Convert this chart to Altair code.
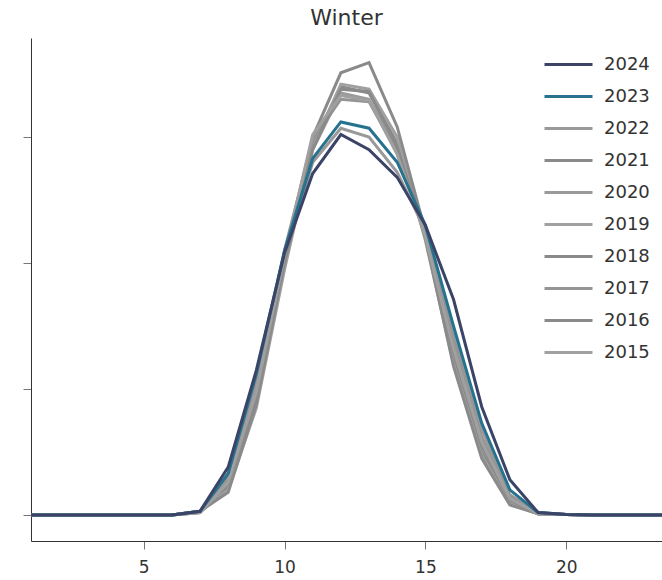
import altair as alt
import pandas as pd

hours = list(range(1, 25))
years = ["2024", "2023", "2022", "2021", "2020", "2019", "2018", "2017", "2016", "2015"]
colors = ["#3b4466", "#26728f", "#999999", "#8a8a8a", "#9a9a9a", "#a0a0a0",
          "#8a8a8a", "#959595", "#8a8a8a", "#a0a0a0"]

z6 = [0, 0, 0, 0, 0, 0]
tail = [0.005, 0.0, 0.0, 0.0, 0.0]
v2024 = z6 + [0.03, 0.38, 1.15, 2.08, 2.71, 3.02, 2.90, 2.68, 2.30, 1.71, 0.86, 0.28, 0.02] + tail
v2023 = z6 + [0.03, 0.33, 1.12, 2.10, 2.83, 3.12, 3.07, 2.80, 2.30, 1.50, 0.73, 0.20, 0.02] + tail
v2022 = z6 + [0.03, 0.30, 1.05, 2.05, 2.80, 3.07, 3.00, 2.72, 2.26, 1.45, 0.68, 0.16, 0.02] + tail
v2021 = z6 + [0.02, 0.22, 0.90, 2.00, 2.95, 3.40, 3.35, 2.95, 2.20, 1.25, 0.50, 0.10, 0.01] + tail
v2020 = z6 + [0.02, 0.28, 1.00, 2.05, 2.90, 3.35, 3.30, 2.90, 2.22, 1.35, 0.60, 0.14, 0.01] + tail
v2019 = z6 + [0.03, 0.20, 0.85, 1.95, 2.92, 3.42, 3.38, 3.00, 2.18, 1.20, 0.47, 0.09, 0.01] + tail
v2018 = z6 + [0.03, 0.25, 0.95, 2.05, 3.00, 3.51, 3.59, 3.08, 2.25, 1.30, 0.55, 0.12, 0.01] + tail
v2017 = z6 + [0.02, 0.30, 1.05, 2.10, 2.98, 3.30, 3.28, 2.88, 2.24, 1.40, 0.62, 0.15, 0.01] + tail
v2016 = z6 + [0.03, 0.18, 0.88, 2.00, 2.90, 3.38, 3.36, 2.92, 2.20, 1.18, 0.45, 0.08, 0.01] + tail
v2015 = z6 + [0.02, 0.26, 0.98, 2.06, 3.02, 3.33, 3.29, 2.86, 2.21, 1.32, 0.58, 0.13, 0.01] + tail

series = {"2024": v2024, "2023": v2023, "2022": v2022, "2021": v2021, "2020": v2020,
          "2019": v2019, "2018": v2018, "2017": v2017, "2016": v2016, "2015": v2015}

rows = []
for y, vals in series.items():
    for h, v in zip(hours, vals):
        rows.append({"hour": h, "value": v, "year": y})
df = pd.DataFrame(rows)

FONT = "DejaVu Sans"

color = alt.Color(
    "year:N",
    scale=alt.Scale(domain=years, range=colors),
    legend=alt.Legend(
        title=None,
        orient="none",
        legendX=524,
        legendY=13,
        padding=0,
        symbolType="M-2,0H2",
        symbolSize=576,
        symbolStrokeWidth=3,
        symbolFillColor="transparent",
        labelFontSize=18,
        labelFont=FONT,
        labelColor="#333333",
        labelOffset=22,
        rowPadding=9,
    ),
)

x = alt.X(
    "hour:Q",
    scale=alt.Scale(domain=[1, 23.4], nice=False, zero=False),
    axis=alt.Axis(values=[5, 10, 15, 20], title=None, grid=False, labelFontSize=17,
                  labelFont=FONT, labelColor="#333333", tickSize=8, tickColor="#777777",
                  domainColor="#333333", labelPadding=10),
)
y = alt.Y(
    "value:Q",
    scale=alt.Scale(domain=[-0.206, 3.786], nice=False, zero=False),
    axis=alt.Axis(values=[0, 1, 2, 3], title=None, grid=False, labels=False,
                  tickSize=8, tickColor="#777777", domainColor="#333333"),
)

base = alt.Chart(df).mark_line(strokeWidth=3, clip=True).encode(x=x, y=y, color=color)

gray = base.transform_filter(alt.FieldOneOfPredicate(field="year", oneOf=years[2:]))
c2023 = base.transform_filter(alt.FieldEqualPredicate(field="year", equal="2023"))
c2024 = base.transform_filter(alt.FieldEqualPredicate(field="year", equal="2024"))

chart = alt.layer(gray, c2023, c2024).properties(
    width=631,
    height=503,
    title=alt.TitleParams("Winter", fontSize=22, font=FONT, fontWeight="normal",
                          color="#333333", anchor="middle", offset=8),
    autosize=alt.AutoSizeParams(type="none"),
    padding={"left": 31, "top": 38, "right": 0, "bottom": 39},
).configure_view(stroke=None)

chart.save("out.html", embed_options={"renderer": "svg", "actions": False})
